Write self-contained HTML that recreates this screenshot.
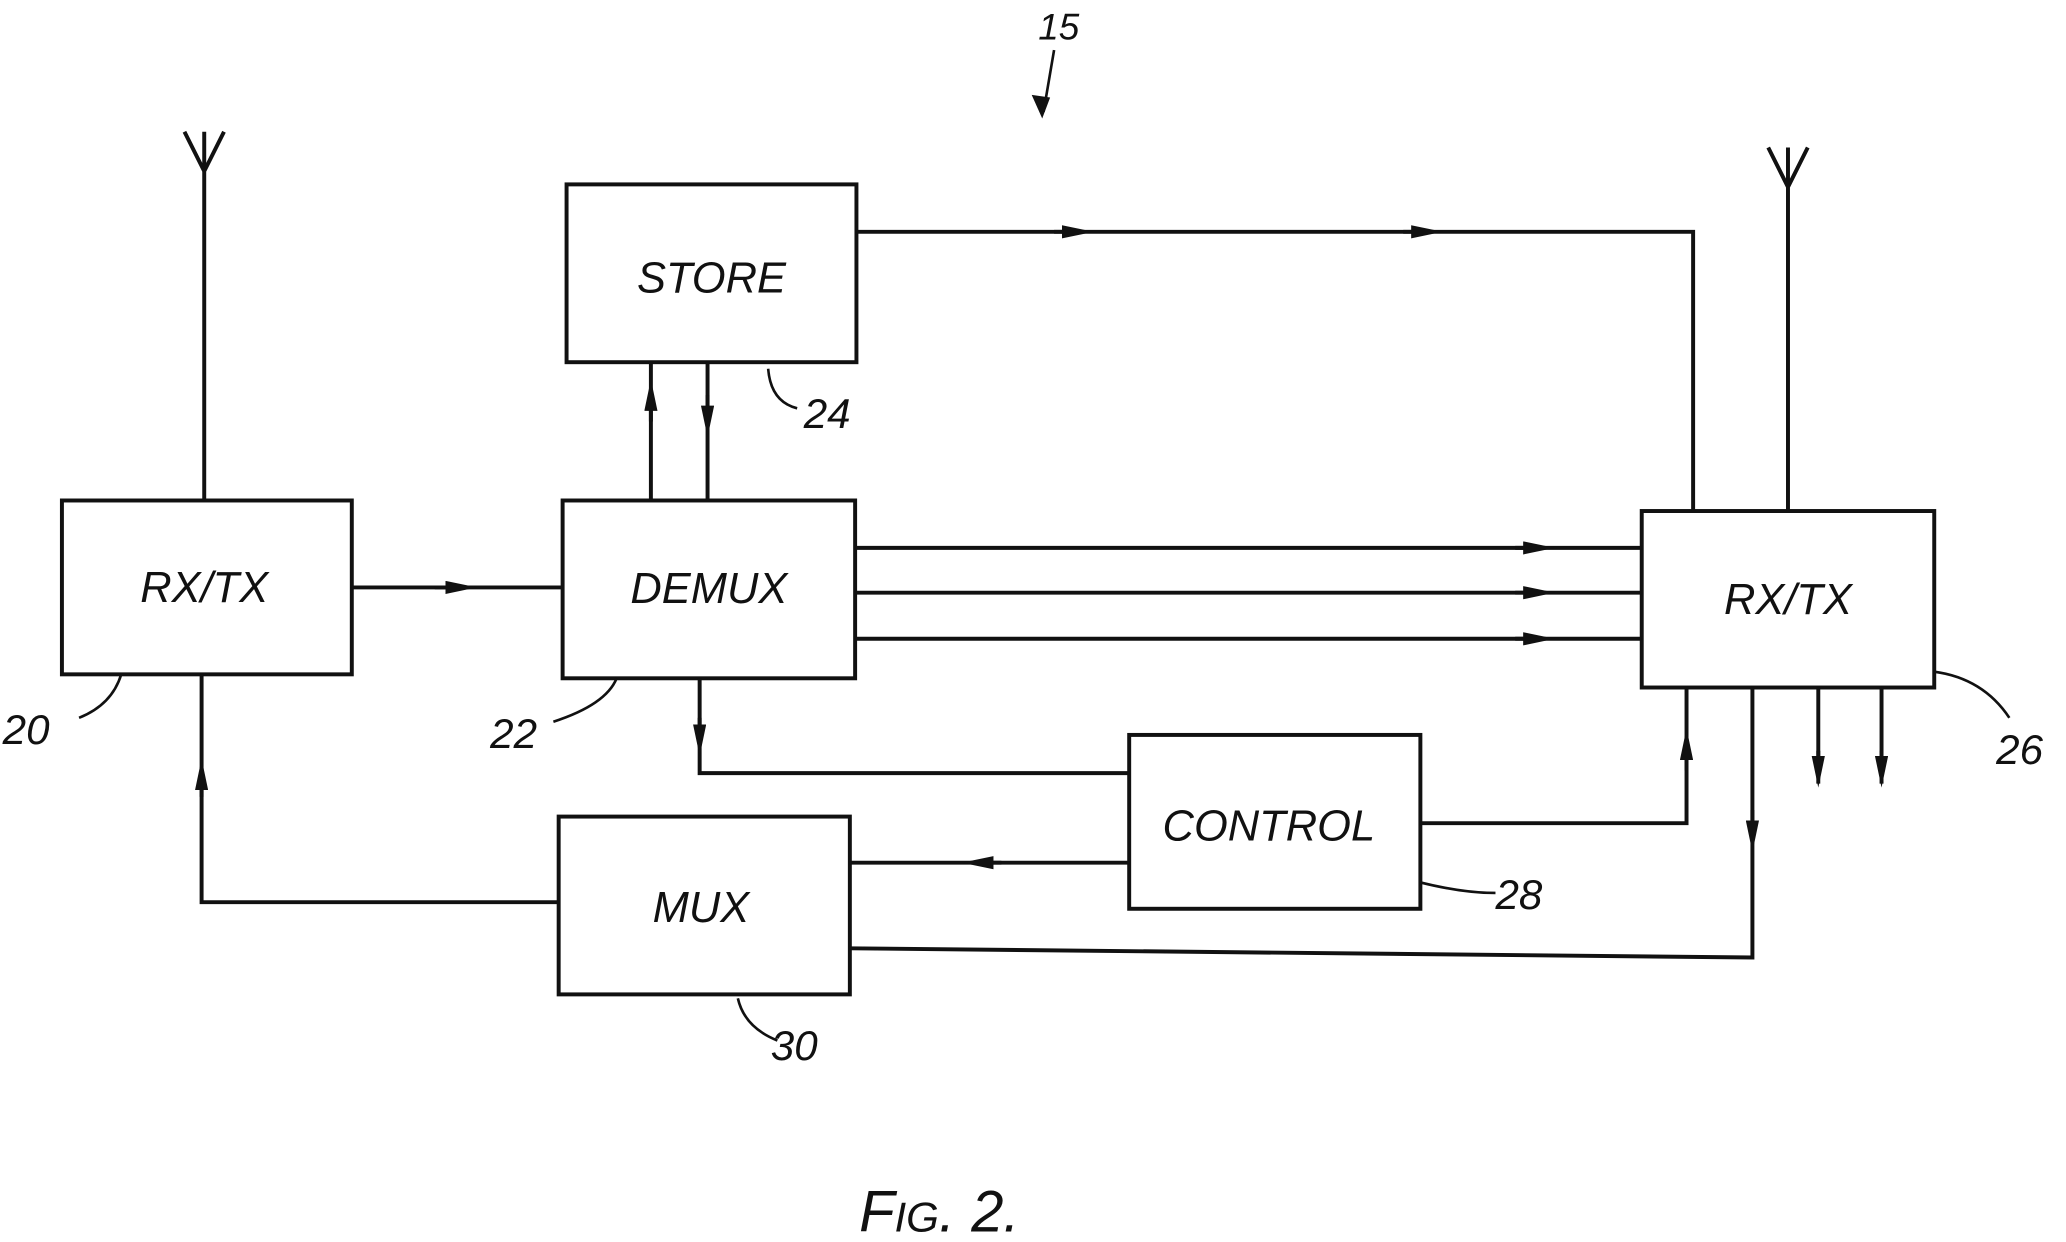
<!DOCTYPE html>
<html><head><style>
html,body{margin:0;padding:0;background:#fff;}
svg{display:block;}
text{font-family:"Liberation Sans",sans-serif;font-style:italic;fill:#111;}
</style></head><body>
<svg width="2066" height="1242" viewBox="0 0 1568 943" preserveAspectRatio="none" xmlns="http://www.w3.org/2000/svg">
<defs>
<marker id="a" markerWidth="24" markerHeight="10" refX="12" refY="5" orient="auto" markerUnits="userSpaceOnUse" viewBox="0 0 24 10">
<path d="M0,0 L24,5 L0,10 Z" fill="#111"/></marker>
</defs>
<g stroke="#111" stroke-width="3" fill="none">
<rect x="47" y="380" width="220" height="132"/>
<rect x="427" y="380" width="222" height="135"/>
<rect x="430" y="140" width="220" height="135"/>
<rect x="1246" y="388" width="222" height="134"/>
<rect x="857" y="558" width="221" height="132"/>
<rect x="424" y="620" width="221" height="135"/>
<path d="M155,380 V125 M140,100 L155,130 L170,100 M155,100 V130"/>
<path d="M1357,388 V120 M1342,112 L1357,142 L1372,112 M1357,112 V142"/>
<path d="M267,446 H427"/>
<path d="M330,446 H350" marker-end="url(#a)"/>
<path d="M494,380 V275"/><path d="M494,320 V300" marker-end="url(#a)"/>
<path d="M537,275 V380"/><path d="M537,300 V320" marker-end="url(#a)"/>
<path d="M650,176 H1285 V388"/>
<path d="M800,176 H818" marker-end="url(#a)"/>
<path d="M1065,176 H1083" marker-end="url(#a)"/>
<path d="M649,416 H1246 M649,450 H1246 M649,485 H1246"/>
<path d="M1150,416 H1168" marker-end="url(#a)"/>
<path d="M1150,450 H1168" marker-end="url(#a)"/>
<path d="M1150,485 H1168" marker-end="url(#a)"/>
<path d="M1380,522 V595 M1428,522 V595"/>
<path d="M1380,570 V586" marker-end="url(#a)"/>
<path d="M1428,570 V586" marker-end="url(#a)"/>
<path d="M1330,522 V727 L645,720"/>
<path d="M1330,615 V635" marker-end="url(#a)"/>
<path d="M1078,625 H1280 V522"/>
<path d="M1280,585 V565" marker-end="url(#a)"/>
<path d="M531,515 V587 H857"/>
<path d="M531,545 V562" marker-end="url(#a)"/>
<path d="M857,655 H645"/>
<path d="M760,655 H742" marker-end="url(#a)"/>
<path d="M424,685 H153 V512"/>
<path d="M153,605 V588" marker-end="url(#a)"/>
<path d="M60,545 Q85,535 92,512" stroke-width="2"/>
<path d="M420,548 Q460,535 468,515" stroke-width="2"/>
<path d="M583,280 Q585,305 605,310" stroke-width="2"/>
<path d="M1468,510 Q1505,515 1525,545" stroke-width="2"/>
<path d="M1078,670 Q1110,678 1135,678" stroke-width="2"/>
<path d="M560,758 Q565,780 590,790" stroke-width="2"/>
<path d="M800,38 L792,85" stroke-width="2"/>
</g>
<path d="M783,72 L791,90 L797,74 Z" fill="#111"/>
<g font-size="33" text-anchor="middle">
<text x="155" y="457">RX/TX</text>
<text x="538" y="458">DEMUX</text>
<text x="540" y="222">STORE</text>
<text x="1357" y="466">RX/TX</text>
<text x="963" y="638">CONTROL</text>
<text x="532" y="700">MUX</text>
</g>
<g font-size="32">
<text x="2" y="565">20</text>
<text x="372" y="568">22</text>
<text x="610" y="325">24</text>
<text x="1515" y="580">26</text>
<text x="1135" y="690">28</text>
<text x="585" y="805">30</text>
<text x="788" y="30" font-size="28">15</text>
<text x="652" y="935" font-size="44">F<tspan font-size="32">IG</tspan>. 2.</text>
</g>
</svg>
</body></html>
